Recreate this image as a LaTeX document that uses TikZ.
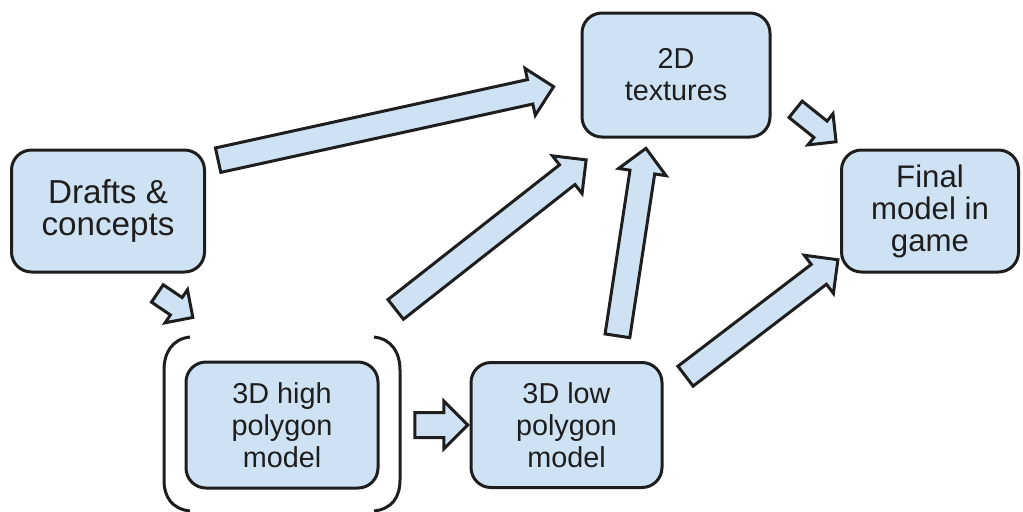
\documentclass[tikz,border=0pt]{standalone}
\usepackage{fontspec}
\setmainfont{Liberation Sans}
\usetikzlibrary{positioning,calc,shapes.arrows}
\definecolor{boxfill}{HTML}{CFE2F3}
\definecolor{boxline}{HTML}{1E1E1E}
\tikzset{
  stagenode/.style={
    rectangle, rounded corners=10pt, draw=boxline, line width=1.5pt,
    fill=boxfill, align=center, inner sep=0pt, text=boxline,
    font=\fontsize{14.4}{16}\selectfont
  },
  bigarrow/.style={
    single arrow, draw=boxline, line width=1.5pt, fill=boxfill,
    inner xsep=0pt, inner ysep=5.5pt, single arrow head extend=5.75pt,
    sloped, allow upside down, anchor=center
  },
  smallarrow/.style={inner ysep=4.5pt, single arrow head extend=4.75pt},
  bracketline/.style={draw=boxline, line width=1.5pt},
}
\newcommand{\blockarrow}[3][]{%
  \path let \p1=($(#3)-(#2)$), \n1={veclen(\x1,\y1)} in
    (#2) -- node[bigarrow, #1, minimum height=\n1] {} (#3);}

\begin{document}
\begin{tikzpicture}[x=0.5pt, y=-0.5pt]
  \useasboundingbox (0,0) rectangle (1023,511);
  \node[stagenode, minimum width=96.5pt, minimum height=61pt,
    font=\fontsize{16.6}{15.6}\selectfont] (drafts) at (108,211) {Drafts \&\\concepts};
  \node[stagenode, minimum width=94pt, minimum height=62pt] (tex) at (676,75) {2D\\textures};
  \node[stagenode, minimum width=88.5pt, minimum height=61pt,
    font=\fontsize{15.6}{16}\selectfont] (final) at (930,211) {Final\\model in\\game};
  \node[stagenode, minimum width=96pt, minimum height=63pt] (high) at (282,425) {3D high\\polygon\\model};
  \node[stagenode, minimum width=95.5pt, minimum height=62.5pt, right=45pt of high] (low) {3D low\\polygon\\model};

  % bracket round the high polygon stage
  \begin{scope}[shift={(high.center)}]
    \draw[bracketline] (-92,-88) .. controls (-110,-86) and (-118,-72) .. (-118,-55)
      -- (-118,55) .. controls (-118,72) and (-110,84) .. (-92,86);
    \draw[bracketline] (92,-88) .. controls (110,-86) and (118,-72) .. (118,-55)
      -- (118,55) .. controls (118,72) and (110,84) .. (92,86);
  \end{scope}

  % arrow ends
  \coordinate (d1) at ($(drafts.north east)+(6,13)$);
  \coordinate (t1) at ($(tex.west)+(-33,13)$);
  \coordinate (h1) at ($(high.north east)+(11,-47)$);
  \coordinate (t2) at ($(tex.south west)+(1,25)$);
  \coordinate (l1) at ($(low.north)+(50,-19)$);
  \coordinate (t3) at ($(tex.south)+(-31,16)$);
  \coordinate (l2) at ($(low.north east)+(17,19)$);
  \coordinate (f1) at ($(final.south west)+(-7,-10)$);
  \coordinate (h3) at ($(high.east)+(29,0)$);
  \coordinate (l3) at ($(low.west)+(-8,0)$);
  \coordinate (t4) at ($(tex.east)+(20,31)$);
  \coordinate (f2) at ($(final.north west)+(-8,-10)$);
  \coordinate (d2) at ($(drafts.south)+(45,17)$);
  \coordinate (h2) at ($(high.north west)+(4,-46)$);

  \foreach \a/\b in {d1/t1,h1/t2,l1/t3,l2/f1,h3/l3}
    \blockarrow{\a}{\b};
  \foreach \a/\b in {t4/f2,d2/h2}
    \blockarrow[smallarrow]{\a}{\b};
\end{tikzpicture}
\end{document}
